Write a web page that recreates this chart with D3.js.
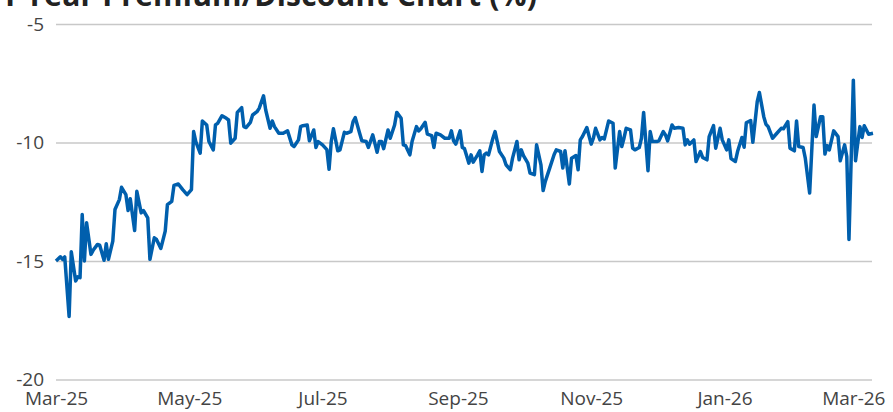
<!DOCTYPE html>
<html>
<head>
<meta charset="utf-8">
<script src="https://cdn.jsdelivr.net/npm/d3@7"></script>
<style>
  body { margin: 0; background: #fff; }
  #premium-discount-graph text { font-family: "Open Sans", "Noto Sans", sans-serif; }
</style>
</head>
<body>
<div id="premium-discount-graph"></div>
<script>
// chart data
var titleText = "1 Year Premium/Discount Chart (%)";

var dates = [
  "2025-03-01","2025-03-03","2025-03-04","2025-03-05","2025-03-07","2025-03-08","2025-03-10","2025-03-11","2025-03-12","2025-03-13",
  "2025-03-14","2025-03-15","2025-03-17","2025-03-18","2025-03-20","2025-03-21","2025-03-23","2025-03-24","2025-03-25","2025-03-27",
  "2025-03-28","2025-03-30","2025-03-31",
  "2025-04-02","2025-04-03","2025-04-04","2025-04-06","2025-04-07","2025-04-09","2025-04-10","2025-04-12","2025-04-13","2025-04-15",
  "2025-04-16","2025-04-18","2025-04-20","2025-04-21","2025-04-23","2025-04-24","2025-04-26","2025-04-28","2025-04-30",
  "2025-05-02","2025-05-03","2025-05-04","2025-05-06","2025-05-07","2025-05-09","2025-05-10","2025-05-12","2025-05-13","2025-05-14",
  "2025-05-16","2025-05-18","2025-05-19","2025-05-20","2025-05-22","2025-05-23","2025-05-25","2025-05-26","2025-05-27","2025-05-29",
  "2025-05-30",
  "2025-06-01","2025-06-02","2025-06-04","2025-06-05","2025-06-07","2025-06-08","2025-06-09","2025-06-11","2025-06-13","2025-06-15",
  "2025-06-17","2025-06-18","2025-06-20","2025-06-21","2025-06-22","2025-06-24","2025-06-25","2025-06-27","2025-06-28","2025-06-29",
  "2025-07-01","2025-07-03","2025-07-04","2025-07-05","2025-07-06","2025-07-08","2025-07-09","2025-07-11","2025-07-12","2025-07-14",
  "2025-07-15","2025-07-16","2025-07-18","2025-07-19","2025-07-21","2025-07-22","2025-07-24","2025-07-26","2025-07-27","2025-07-28",
  "2025-07-29","2025-07-31",
  "2025-08-01","2025-08-03","2025-08-04","2025-08-06","2025-08-07","2025-08-08","2025-08-10","2025-08-11","2025-08-13","2025-08-14",
  "2025-08-15","2025-08-17","2025-08-18","2025-08-20","2025-08-21","2025-08-22","2025-08-24","2025-08-26","2025-08-28","2025-08-29",
  "2025-08-30","2025-08-31",
  "2025-09-02","2025-09-03","2025-09-04","2025-09-06","2025-09-07","2025-09-08","2025-09-10","2025-09-11","2025-09-12","2025-09-13",
  "2025-09-14","2025-09-15","2025-09-17","2025-09-18","2025-09-20","2025-09-22","2025-09-23","2025-09-25","2025-09-26","2025-09-28",
  "2025-09-29","2025-09-30",
  "2025-10-01","2025-10-03","2025-10-04","2025-10-06","2025-10-07","2025-10-09","2025-10-10","2025-10-11","2025-10-13","2025-10-15",
  "2025-10-16","2025-10-18","2025-10-19","2025-10-20","2025-10-22","2025-10-23","2025-10-25","2025-10-26","2025-10-27","2025-10-28",
  "2025-10-30",
  "2025-11-01","2025-11-02","2025-11-03","2025-11-05","2025-11-06","2025-11-07","2025-11-09","2025-11-11","2025-11-12","2025-11-14",
  "2025-11-15","2025-11-16","2025-11-17","2025-11-19","2025-11-20","2025-11-21","2025-11-23","2025-11-24","2025-11-25","2025-11-27",
  "2025-11-28","2025-11-29",
  "2025-12-01","2025-12-02","2025-12-04","2025-12-05","2025-12-06","2025-12-08","2025-12-09","2025-12-11","2025-12-13","2025-12-14",
  "2025-12-15","2025-12-16","2025-12-18","2025-12-19","2025-12-21","2025-12-22","2025-12-24","2025-12-25","2025-12-27","2025-12-28",
  "2025-12-30","2025-12-31",
  "2026-01-02","2026-01-03","2026-01-04","2026-01-06","2026-01-07","2026-01-09","2026-01-10","2026-01-11","2026-01-13","2026-01-14",
  "2026-01-16","2026-01-17","2026-01-19","2026-01-20","2026-01-21","2026-01-23","2026-01-25","2026-01-27","2026-01-28","2026-01-30",
  "2026-01-31",
  "2026-02-02","2026-02-03","2026-02-04","2026-02-06","2026-02-07","2026-02-09","2026-02-11","2026-02-12","2026-02-14","2026-02-15",
  "2026-02-16","2026-02-17","2026-02-18","2026-02-20","2026-02-22","2026-02-23","2026-02-25","2026-02-26","2026-02-27",
  "2026-03-01","2026-03-02","2026-03-04","2026-03-05","2026-03-06","2026-03-08","2026-03-10"
];

var premiumDiscount = [
  -15.00,-14.82,-14.93,-14.83,-17.34,-14.61,-15.84,-15.67,-15.70,-13.04,-15.00,-13.39,-14.72,-14.55,-14.30,-14.33,-14.97,-14.27,-14.93,-14.16,
  -12.83,-12.41,-11.89,-12.20,-12.87,-12.37,-13.71,-12.06,-12.97,-12.87,-13.18,-14.93,-14.02,-14.09,-14.47,-13.74,-12.62,-12.48,-11.81,-11.75,
  -11.99,-12.20,-11.99,
  -9.54,-9.96,-10.45,-9.09,-9.26,-9.96,-10.31,-9.26,-9.19,-8.87,-8.98,-9.05,-10.03,-9.82,-8.73,-8.53,-9.33,-9.37,-9.15,-8.84,
  -8.70,-8.56,-8.03,-8.63,-9.40,-9.09,-9.33,-9.61,-9.61,-9.51,-10.10,-10.17,-9.89,-9.33,-9.29,-9.26,-9.93,-9.47,-10.21,-9.96,
  -10.10,-10.30,-11.13,
  -9.96,-9.42,-10.35,-10.31,-9.57,-9.61,-9.54,-9.12,-8.95,-9.61,-9.93,-9.96,-10.21,-9.68,-10.41,-9.96,-9.96,-10.26,-9.47,-9.82,
  -9.26,-8.73,-8.98,-10.10,-10.13,-10.52,-9.96,-9.33,-9.51,-9.42,-9.15,-9.65,-9.71,-10.21,-9.61,-9.68,-9.82,-9.82,-9.51,-9.93,
  -10.07,-9.51,-10.21,-10.26,-10.87,
  -10.52,-10.83,-10.52,-10.35,-11.22,-10.52,-10.45,-10.52,-9.82,-9.54,-10.38,-10.66,-10.94,-11.15,-10.66,-9.96,-10.73,-10.31,-10.55,-10.87,
  -11.29,-11.36,-10.10,-10.94,-12.03,-11.64,-11.08,-10.52,-10.31,-10.38,-11.08,-10.35,-11.75,-10.66,-10.55,-11.15,-9.89,-9.75,-9.37,-10.07,
  -9.82,-9.40,-9.89,-9.79,-9.85,-9.09,
  -9.19,-11.08,-9.54,-10.17,-9.82,-9.40,-9.47,-10.24,-10.31,-10.21,-9.82,-8.73,-11.19,-9.54,-9.96,-9.96,-9.93,-9.54,-9.68,-9.93,
  -9.26,-9.40,-9.37,-9.40,-10.10,-9.89,-10.07,-9.89,-10.80,-10.38,-10.63,-10.73,-9.75,-9.29,-10.24,-9.40,-9.89,-10.31,-9.89,-10.68,
  -10.80,-10.38,-9.79,-10.20,-9.17,-9.07,
  -9.99,-8.28,-7.89,-8.91,-9.23,-9.33,-9.82,-9.61,-9.40,-9.42,-9.12,-10.24,-10.35,-9.09,-10.17,-10.21,-10.66,-12.13,-8.42,-9.75,
  -8.91,-8.91,-10.49,-10.13,-10.31,-9.51,-9.75,-10.77,-10.10,-10.59,-14.09,-7.37,-10.77,-9.33,-9.79,-9.29,-9.65,-9.61
];

var yTickValues = [-5, -10, -15, -20];
var xTickDates = ["2025-03-01","2025-05-01","2025-07-01","2025-09-01","2025-11-01","2026-01-01","2026-03-01"];
var xTickLabels = ["Mar-25","May-25","Jul-25","Sep-25","Nov-25","Jan-26","Mar-26"];

// set the dimensions and margins of the graph
var margin = {top: 24, right: 20, bottom: 33, left: 56},
    width = 893 - margin.left - margin.right,
    height = 412 - margin.top - margin.bottom;

var parseDate = d3.timeParse("%Y-%m-%d");

var data = dates.map(function(d, i) {
  return {date: parseDate(d), value: premiumDiscount[i]};
});

var svg = d3.select("#premium-discount-graph")
  .append("svg")
    .attr("width", 893)
    .attr("height", 412);

// title, mostly cut off by the top edge like in the original
svg.append("text")
    .attr("x", 0)
    .attr("y", 6)
    .attr("textLength", 537)
    .style("font-size", "30px")
    .style("font-weight", "bold")
    .style("fill", "#222")
    .text(titleText);

var g = svg.append("g")
    .attr("transform", "translate(" + margin.left + "," + margin.top + ")");

// X scale: time
var x = d3.scaleTime()
  .domain([parseDate("2025-03-01"), parseDate("2026-03-10")])
  .range([0, 817]);

// Y scale
var y = d3.scaleLinear()
  .domain([-5, -20])
  .range([0, 355.5]);

// horizontal grid + y labels
var yAxis = g.append("g")
  .call(d3.axisLeft(y)
    .tickValues(yTickValues)
    .tickSize(-816)
    .tickPadding(12)
    .tickFormat(function(d) { return d3.format("")(d).replace("\u2212", "-"); }));

yAxis.select(".domain").remove();
yAxis.selectAll(".tick line")
    .attr("stroke", "#c8c8c8")
    .attr("stroke-width", 1.5);
yAxis.selectAll(".tick text")
    .style("font-size", "19px")
    .style("fill", "#444");

// x labels
var xAxis = g.append("g")
  .attr("transform", "translate(0," + height + ")")
  .call(d3.axisBottom(x)
    .tickValues(xTickDates.map(parseDate))
    .tickSize(0)
    .tickPadding(13)
    .tickFormat(function(d, i) { return xTickLabels[i]; }));

xAxis.select(".domain").remove();
xAxis.selectAll(".tick text")
    .style("font-size", "19px")
    .style("fill", "#444");

// the premium / discount line
g.append("path")
  .datum(data)
    .attr("fill", "none")
    .attr("stroke", "#005fad")
    .attr("stroke-width", 3.5)
    .attr("stroke-linejoin", "round")
    .attr("d", d3.line()
      .x(function(d) { return x(d.date); })
      .y(function(d) { return y(d.value); }));
</script>
</body>
</html>
